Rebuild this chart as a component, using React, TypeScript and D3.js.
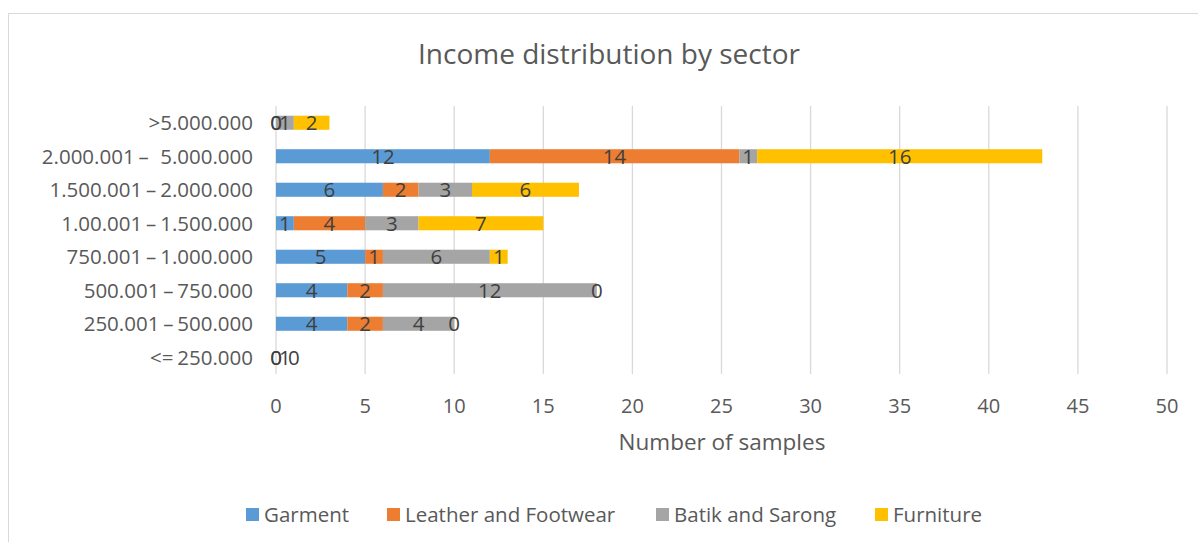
import React from "react";
import * as d3 from "d3";

const categories = [
  ">5.000.000",
  "2.000.001 –   5.000.000",
  "1.500.001 – 2.000.000",
  "1.00.001 – 1.500.000",
  "750.001 – 1.000.000",
  "500.001 – 750.000",
  "250.001 – 500.000",
  "<= 250.000",
];
const seriesNames = ["Garment", "Leather and Footwear", "Batik and Sarong", "Furniture"];
const garment = [0, 12, 6, 1, 5, 4, 4, 0];
const leather = [0, 14, 2, 4, 1, 2, 2, 0];
const batik = [1, 1, 3, 3, 6, 12, 4, 1];
const furniture = [2, 16, 6, 7, 1, 0, 0, 0];
// points whose bar is drawn without fill (only the label shows)
const noFillPoints = [["<= 250.000", "Batik and Sarong"]];
const xTicks = [0, 5, 10, 15, 20, 25, 30, 35, 40, 45, 50];
const colors = ["#5B9BD5", "#ED7D31", "#A5A5A5", "#FFC000"];

const W = 1198;
const H = 542;
const FONT = "'Open Sans', sans-serif";
const TXT = "#595959";

export default function App() {
  const x = d3.scaleLinear().domain([0, 50]).range([276, 1167]);
  const y = d3.scaleBand<string>().domain(categories).range([106, 374]).paddingInner(0.58).paddingOuter(0.29);
  const table = categories.map((c, i) => ({
    cat: c,
    Garment: garment[i],
    "Leather and Footwear": leather[i],
    "Batik and Sarong": batik[i],
    Furniture: furniture[i],
  }));
  const stacked = d3.stack<any>().keys(seriesNames)(table);
  const legendX = [246, 387, 656, 875];

  return (
    <svg width={W} height={H} style={{ position: "fixed", left: 0, top: 0 }} fontFamily={FONT}>
      <rect x={0} y={0} width={W} height={H} fill="#fff" />
      <rect x={8.5} y={13.5} width={W + 20} height={H + 20} fill="#fff" stroke="#d9d9d9" strokeWidth={1} />
      <text x={609} y={64} textAnchor="middle" fontSize={27} fill={TXT} textLength={382} lengthAdjust="spacingAndGlyphs">
        Income distribution by sector
      </text>
      {xTicks.map((t) => (
        <g key={t}>
          <line x1={x(t)} x2={x(t)} y1={106} y2={374} stroke="#d9d9d9" strokeWidth={1.3} />
          <text x={x(t)} y={413} textAnchor="middle" fontSize={20} fill={TXT}>
            {t}
          </text>
        </g>
      ))}
      {categories.map((c) => (
        <text
          key={c}
          x={253}
          y={(y(c) as number) + y.bandwidth() / 2 + 7.5}
          textAnchor="end"
          fontSize={20.5}
          fill={TXT}
          wordSpacing={-1.5}
          style={{ whiteSpace: "pre" }}
        >
          {c}
        </text>
      ))}
      {stacked.map((s, si) =>
        s.map((d, i) => {
          const cat = categories[i];
          const hidden = noFillPoints.some((p) => p[0] === cat && p[1] === s.key);
          return (
            <rect
              key={s.key + i}
              x={x(d[0])}
              y={y(cat)}
              width={x(d[1]) - x(d[0])}
              height={y.bandwidth()}
              fill={hidden ? "none" : colors[si]}
            />
          );
        })
      )}
      {stacked.map((s) =>
        s.map((d, i) => (
          <text
            key={"l" + s.key + i}
            x={(x(d[0]) + x(d[1])) / 2}
            y={(y(categories[i]) as number) + y.bandwidth() / 2 + 7.5}
            textAnchor="middle"
            fontSize={20.5}
            fill="#404040"
          >
            {d[1] - d[0]}
          </text>
        ))
      )}
      <text x={722} y={450} textAnchor="middle" fontSize={22.5} fill={TXT}>
        Number of samples
      </text>
      {seriesNames.map((n, i) => (
        <g key={n}>
          <rect x={legendX[i]} y={508} width={13} height={13} fill={colors[i]} />
          <text x={legendX[i] + 18} y={522} fontSize={20.5} fill={TXT}>
            {n}
          </text>
        </g>
      ))}
    </svg>
  );
}
